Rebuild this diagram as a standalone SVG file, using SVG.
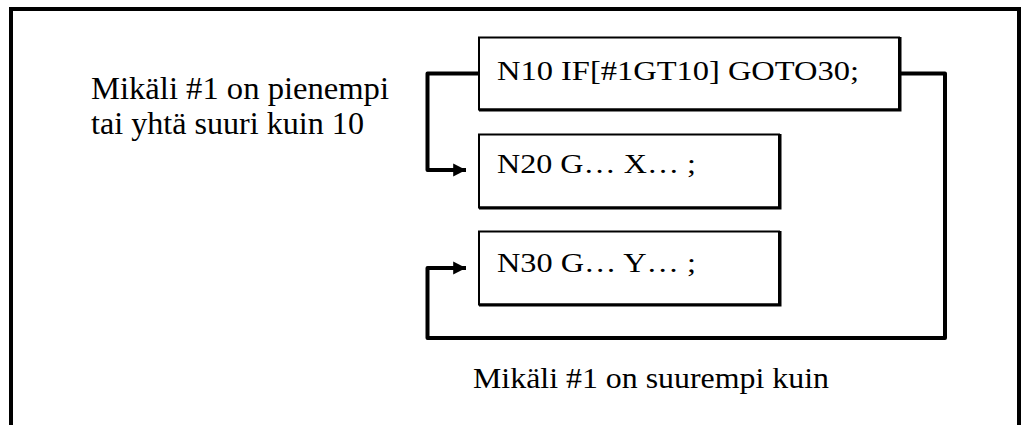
<svg xmlns="http://www.w3.org/2000/svg" width="1022" height="425" viewBox="0 0 1022 425">
<style>
.box{fill:#fff;stroke:#000;stroke-width:2}
.shadow{stroke:#000;stroke-width:3;fill:none}
.t{font-family:"Liberation Serif","Times New Roman",serif;fill:#000}
.conn{fill:none;stroke:#000;stroke-width:4;stroke-linejoin:round}
.frame{fill:none;stroke:#000;stroke-width:4}
</style>
<defs>
<marker id="arr" markerWidth="4" markerHeight="4" refX="3.2" refY="2" orient="auto" markerUnits="strokeWidth">
<path d="M0,0.4 L3.2,2 L0,3.6 Z" fill="#000"/>
</marker>
</defs>
<rect width="1022" height="425" fill="#fff"/>
<g id="frame">
<path class="frame" d="M11,425 V9 H1019 V425"/>
</g>
<g id="connectors">
<path class="conn" d="M478,73.5 H427.5 V170 H466" marker-end="url(#arr)"/>
<path class="conn" d="M900,73.5 H945 V338 H427.5 V268 H466" marker-end="url(#arr)"/>
</g>
<g id="n10">
<rect class="box" x="479" y="37.5" width="420" height="72"/>
<path class="shadow" d="M479,110 H900 V37"/>
<text class="t" x="497" y="80" font-size="27" textLength="362" lengthAdjust="spacingAndGlyphs">N10 IF[#1GT10] GOTO30;</text>
</g>
<g id="n20">
<rect class="box" x="479" y="134.5" width="300" height="73"/>
<path class="shadow" d="M479,208 H780 V134"/>
<text class="t" x="497" y="173" font-size="27" textLength="199" lengthAdjust="spacingAndGlyphs">N20 G… X… ;</text>
</g>
<g id="n30">
<rect class="box" x="479" y="231.5" width="300" height="73"/>
<path class="shadow" d="M479,305 H780 V231"/>
<text class="t" x="497" y="272" font-size="27" textLength="199" lengthAdjust="spacingAndGlyphs">N30 G… Y… ;</text>
</g>
<g id="label-left">
<text class="t" x="91" y="99" font-size="31" textLength="298" lengthAdjust="spacingAndGlyphs">Mikäli #1 on pienempi</text>
<text class="t" x="91" y="134" font-size="31" textLength="273" lengthAdjust="spacingAndGlyphs">tai yhtä suuri kuin 10</text>
</g>
<g id="label-bottom">
<text class="t" x="473" y="388" font-size="30" textLength="356" lengthAdjust="spacingAndGlyphs">Mikäli #1 on suurempi kuin</text>
</g>
</svg>
